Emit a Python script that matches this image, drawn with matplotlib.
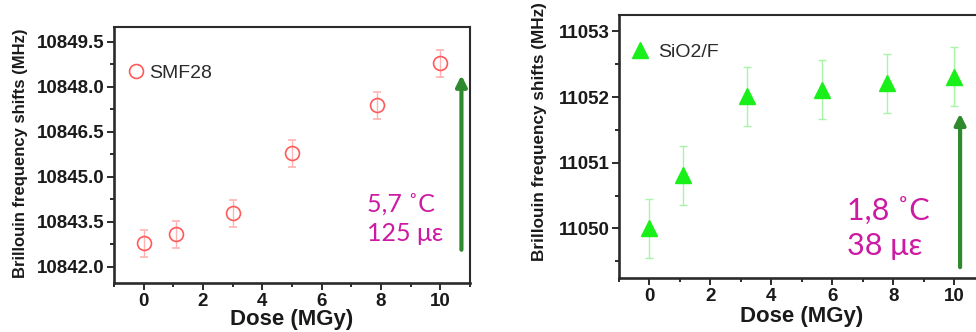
import matplotlib
matplotlib.use("Agg")
import matplotlib.pyplot as plt
from matplotlib.ticker import MultipleLocator, FormatStrFormatter
from matplotlib.lines import Line2D

# SMF28 fibre: Brillouin frequency shift vs dose
dose_smf = [0.0, 1.1, 3.0, 5.0, 7.85, 10.0]
bfs_smf = [10842.78, 10843.08, 10843.78, 10845.78, 10847.38, 10848.79]
err_smf = [0.45, 0.45, 0.45, 0.45, 0.45, 0.45]

# SiO2/F fibre: Brillouin frequency shift vs dose
dose_f = [0.0, 1.1, 3.2, 5.65, 7.8, 10.0]
bfs_f = [11050.0, 11050.81, 11052.01, 11052.11, 11052.21, 11052.31]
err_f = [0.45, 0.45, 0.45, 0.45, 0.45, 0.45]

# Equivalent temperature / strain notes and arrow spans
note_smf = ["5,7 ˚C", "125 με"]
note_f = ["1,8 ˚C", "38 με"]
arrow_smf = (10.71, 10842.56, 10848.39)
arrow_f = (10.19, 11049.41, 11051.75)

TICK_FONT = dict(family="Liberation Sans", weight="bold", size=13.5)
NOTE_FONT = ["Lato", "DejaVu Sans"]
SPINE = "#2b2b2b"
TEXT = "#1a1a1a"
MAGENTA = "#cc1aa3"
ARROW_GREEN = "#2f8a2f"
RED = "#ff5a5a"
LIME = "#19f019"

fig = plt.figure(figsize=(9.76, 3.32), dpi=100)
fig.patch.set_facecolor("white")

ax1 = fig.add_axes([0.1168, 0.1476, 0.3648, 0.771])
ax2 = fig.add_axes([0.6342, 0.1636, 0.3748, 0.7913])


def style_axes(ax, ymajor, yminor, fmt, ylab_xy, xlab_y, ylab_size):
    for side, s in ax.spines.items():
        s.set_color(SPINE)
        s.set_linewidth(1.9 if side in ("left", "bottom") else 1.5)
    ax.set_xlim(-1, 11)
    ax.xaxis.set_major_locator(MultipleLocator(2))
    ax.xaxis.set_minor_locator(MultipleLocator(1))
    ax.yaxis.set_major_locator(MultipleLocator(ymajor))
    ax.yaxis.set_minor_locator(MultipleLocator(yminor))
    ax.yaxis.set_major_formatter(FormatStrFormatter(fmt))
    ax.tick_params(which="both", direction="out", top=False, right=False,
                   color=SPINE, width=1.4)
    ax.tick_params(which="major", length=5)
    ax.tick_params(which="minor", length=3)
    ax.tick_params(axis="y", pad=1.5)
    ax.tick_params(axis="x", pad=2.5)
    for lab in ax.get_xticklabels() + ax.get_yticklabels():
        lab.set(**TICK_FONT)
        lab.set_color(TEXT)
    ax.set_xlabel("Dose (MGy)", family="Liberation Sans", weight="bold",
                  size=16, color=TEXT, va="top")
    ax.xaxis.set_label_coords(0.5, xlab_y)
    ax.set_ylabel("Brillouin frequency shifts (MHz)", family="Liberation Sans",
                  weight="bold", size=ylab_size, color=TEXT)
    ax.yaxis.set_label_coords(*ylab_xy)


def arrow(ax, spec):
    x, y0, y1 = spec
    ax.annotate("", xy=(x, y1), xytext=(x, y0),
                arrowprops=dict(arrowstyle="-|>", color=ARROW_GREEN, lw=3,
                                mutation_scale=16, shrinkA=0, shrinkB=0))


# Left panel
ax1.errorbar(dose_smf, bfs_smf, yerr=err_smf, fmt="o", ms=10, mfc="none",
             mec=RED, mew=1.2, ecolor="#ffb3b3", elinewidth=1.0,
             capsize=3, capthick=1.0)
ax1.set_ylim(10841.45, 10850.0)
style_axes(ax1, 1.5, 0.75, "%.1f", (-0.2416, 0.508), -0.101, 12)
arrow(ax1, arrow_smf)
ax1.text(7.54, 10843.82, note_smf[0], family=NOTE_FONT, size=18, color=MAGENTA,
         va="baseline", ha="left")
ax1.text(7.54, 10842.86, note_smf[1], family=NOTE_FONT, size=18, color=MAGENTA,
         va="baseline", ha="left")
h1 = Line2D([], [], ls="none", marker="o", ms=10, mfc="none", mec=RED, mew=1.2)
ax1.legend([h1], ["SMF28"], loc="center left", bbox_to_anchor=(0.0365, 0.82),
           frameon=False, handletextpad=0.2, borderaxespad=0, borderpad=0,
           handlelength=0.95, prop=dict(family="Liberation Sans", size=14),
           labelcolor="#2a2a2a")

# Right panel
ax2.errorbar(dose_f, bfs_f, yerr=err_f, fmt="^", ms=11, mfc=LIME,
             mec=LIME, ecolor="#a8f5a8", elinewidth=1.0, capsize=3,
             capthick=1.0)
ax2.set_ylim(11049.25, 11053.25)
style_axes(ax2, 1, 0.5, "%d", (-0.197, 0.5566), -0.108, 12.3)
arrow(ax2, arrow_f)
ax2.text(6.47, 11050.12, note_f[0], family=NOTE_FONT, size=22, color=MAGENTA,
         va="baseline", ha="left")
ax2.text(6.47, 11049.59, note_f[1], family=NOTE_FONT, size=22, color=MAGENTA,
         va="baseline", ha="left")
h2 = Line2D([], [], ls="none", marker="^", ms=11, mfc=LIME, mec=LIME)
ax2.legend([h2], ["SiO2/F"], loc="center left", bbox_to_anchor=(0.0328, 0.859),
           frameon=False, handletextpad=0.45, borderaxespad=0, borderpad=0,
           handlelength=0.95, prop=dict(family="Liberation Sans", size=14),
           labelcolor="#2a2a2a")

fig.savefig("out.png", dpi=100)
